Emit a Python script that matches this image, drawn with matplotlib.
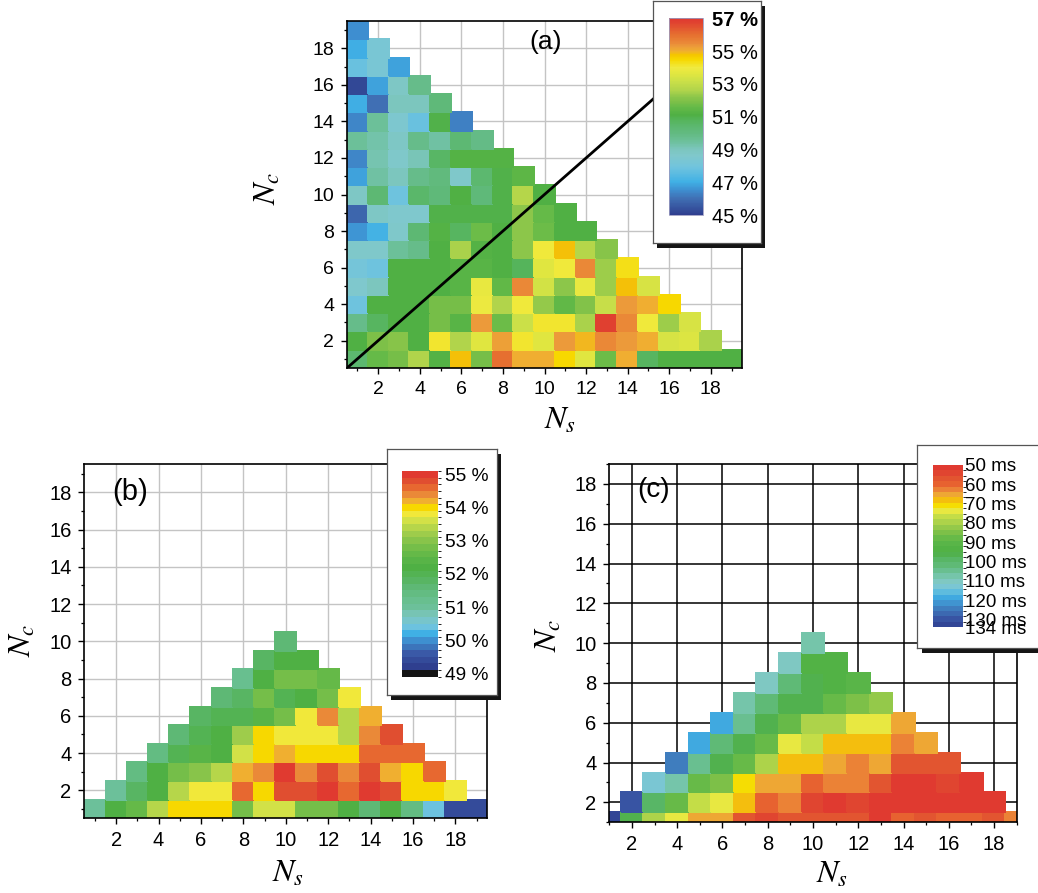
import numpy as np
import matplotlib
matplotlib.use('Agg')
import matplotlib.pyplot as plt
from matplotlib.colors import LinearSegmentedColormap, ListedColormap, BoundaryNorm, Normalize

plt.rcParams['font.family'] = ['Liberation Sans', 'DejaVu Sans']
plt.rcParams['mathtext.fontset'] = 'stix'

# ------------------------------------------------------------------ data
ns_axis = list(range(1, 20))          # N_s = 1..19
nc_axis = list(range(1, 20))          # N_c = 1..19
major_ticks = [2, 4, 6, 8, 10, 12, 14, 16, 18]

# Panel (a): rows for N_c = 1..19, each row starts at N_s = 1 (N_s + N_c <= 20)
a_rows = [
    [50.4, 51.6, 51.8, 52.6, 51.2, 54.8, 51.8, 56.0, 55.0, 55.0, 54.5, 53.6, 51.7, 55.0, 50.7, 51.1, 51.1, 51.1, 51.1],
    [51.1, 51.9, 52.1, 51.1, 54.1, 52.6, 53.6, 55.2, 54.1, 53.6, 55.3, 54.9, 55.5, 55.3, 55.0, 53.4, 53.5, 52.5],
    [49.8, 50.7, 51.1, 51.1, 51.8, 51.3, 55.3, 51.7, 53.2, 54.1, 54.1, 52.5, 56.8, 55.5, 54.0, 52.4, 53.4],
    [47.9, 51.1, 51.1, 51.1, 51.8, 51.8, 53.9, 52.6, 54.0, 52.3, 51.5, 52.0, 53.1, 55.3, 55.0, 54.5],
    [48.6, 49.0, 51.1, 51.1, 51.1, 51.3, 53.8, 51.5, 55.5, 53.3, 52.2, 53.8, 52.4, 54.8, 53.4],
    [48.1, 47.9, 51.1, 51.1, 51.1, 51.3, 51.3, 51.1, 50.8, 53.6, 54.0, 55.5, 52.4, 54.3],
    [48.7, 48.7, 49.5, 49.8, 51.1, 52.5, 51.2, 51.1, 52.2, 54.0, 54.8, 52.7, 52.1],
    [46.6, 47.1, 48.7, 50.3, 51.2, 50.7, 51.7, 51.1, 52.2, 51.7, 51.1, 51.1],
    [45.8, 48.8, 48.6, 48.6, 51.0, 51.0, 51.0, 51.0, 52.2, 51.6, 51.1],
    [48.8, 50.3, 47.9, 50.5, 50.2, 51.1, 50.2, 51.0, 52.7, 51.1],
    [46.8, 49.4, 49.0, 49.8, 50.1, 48.7, 50.4, 51.0, 51.4],
    [46.4, 49.2, 48.7, 49.1, 50.6, 51.2, 51.2, 51.2],
    [49.5, 49.3, 48.8, 49.8, 49.4, 50.3, 49.9],
    [46.4, 49.5, 48.5, 47.8, 51.0, 46.3],
    [47.0, 46.0, 49.0, 49.0, 50.2],
    [45.2, 46.8, 48.8, 49.8],
    [47.8, 48.3, 46.8],
    [47.0, 48.3],
    [46.5],
]

# Panel (b): rows for N_c = 1..10, row N_c starts at N_s = N_c, ends at N_s = 20 - N_c
b_rows = [
    [50.9, 52.2, 52.5, 53.3, 54.0, 54.0, 54.0, 52.7, 53.6, 53.6, 52.7, 52.7, 52.2, 51.6, 52.2, 51.3, 50.4, 49.3, 49.3],
    [50.9, 51.8, 52.2, 53.3, 53.8, 53.8, 54.6, 54.0, 54.8, 54.8, 55.0, 54.6, 55.0, 54.8, 54.0, 54.0, 53.8],
    [51.3, 52.2, 52.7, 53.0, 53.3, 54.2, 54.4, 55.0, 54.4, 54.8, 54.4, 54.8, 54.2, 54.0, 54.6],
    [51.3, 51.9, 52.4, 52.2, 53.6, 54.0, 54.2, 54.0, 54.0, 54.0, 54.6, 54.6, 54.6],
    [51.6, 51.9, 52.2, 53.1, 54.0, 53.8, 53.8, 53.8, 53.3, 54.4, 54.8],
    [51.8, 52.0, 52.0, 52.3, 52.7, 53.8, 54.4, 53.3, 54.2],
    [51.5, 51.8, 52.7, 51.9, 52.2, 52.7, 53.8],
    [51.2, 52.2, 52.7, 52.7, 52.5],
    [51.8, 52.2, 52.2],
    [51.6],
]

# Panel (c): delay in ms, same layout as (b)
c_rows = [
    [133, 95, 80, 73, 66, 66, 56, 54, 56, 56, 56, 56, 52, 60, 57, 60, 60, 57, 62],
    [129, 98, 87, 77, 73, 69, 60, 62, 54, 52, 54, 52, 52, 52, 52, 52, 52],
    [114, 108, 87, 85, 71, 66, 64, 60, 62, 62, 56, 52, 52, 54, 52],
    [124, 104, 95, 87, 80, 69, 69, 66, 62, 64, 58, 56, 56],
    [118, 102, 95, 88, 75, 77, 69, 69, 69, 62, 64],
    [118, 104, 96, 87, 80, 80, 75, 75, 66],
    [108, 102, 95, 95, 88, 85, 82],
    [110, 102, 95, 92, 90],
    [110, 93, 92],
    [108],
]

a_cbar_ticks = [45, 47, 49, 51, 53, 55, 57]
a_cbar_labels = ['45 %', '47 %', '49 %', '51 %', '53 %', '55 %', '57 %']
b_cbar_ticks = [49, 50, 51, 52, 53, 54, 55]
b_cbar_labels = ['49 %', '50 %', '51 %', '52 %', '53 %', '54 %', '55 %']
c_cbar_ticks = [50, 60, 70, 80, 90, 100, 110, 120, 130, 134]
c_cbar_labels = ['50 ms', '60 ms', '70 ms', '80 ms', '90 ms', '100 ms', '110 ms',
                 '120 ms', '130 ms', '134 ms']
panel_tags = ['(a)', '(b)', '(c)']

# ------------------------------------------------------------------ colour maps
a_anchors = [(45.0, '#2f3f8f'), (46.0, '#4070b4'), (46.5, '#3e8ed0'), (47.0, '#40b0e5'),
             (47.9, '#70c4de'), (48.6, '#80c8cc'), (49.0, '#7cc6be'), (49.5, '#6cc09a'),
             (50.0, '#62ba80'), (50.4, '#5cb870'), (50.8, '#55b45a'), (51.1, '#4fb044'),
             (51.6, '#66ba48'), (51.9, '#7cc048'), (52.2, '#8cc64a'), (52.6, '#b0d44b'),
             (53.2, '#cce048'), (53.6, '#e0e640'), (54.0, '#f0ea40'), (54.5, '#f7d800'),
             (54.8, '#f5c400'), (55.0, '#f0b030'), (55.3, '#ec9a3a'), (55.5, '#ea8a38'),
             (56.0, '#e67030'), (56.8, '#e04030'), (57.0, '#e03a30')]
b_anchors = [(49.2, '#2f3f8f'), (49.6, '#3a5aa8'), (50.0, '#3e90d0'), (50.2, '#40b0e5'),
             (50.4, '#70c4de'), (50.7, '#7cc6c0'), (51.0, '#6cc09a'), (51.3, '#66be8a'),
             (51.6, '#5eb874'), (51.9, '#55b45a'), (52.2, '#4fb044'), (52.5, '#5cb648'),
             (52.7, '#6cbc48'), (53.0, '#88c44a'), (53.3, '#a8d04b'), (53.6, '#d0e048'),
             (53.8, '#f0ea40'), (54.0, '#f7d800'), (54.2, '#f0b030'), (54.4, '#ea8a38'),
             (54.6, '#e86a30'), (54.8, '#e05030'), (55.0, '#e03a30')]
c_anchors = [(50, '#e03a30'), (52, '#e03a30'), (56, '#e05030'), (60, '#e86430'),
             (62, '#ea7a34'), (64, '#ec9a3a'), (66, '#f0b030'), (69, '#f5c400'),
             (71, '#f5dc00'), (73, '#f0ea40'), (75, '#dae444'), (77, '#c0dc48'),
             (80, '#a8d04b'), (85, '#7cc048'), (87, '#6cbc48'), (90, '#5ab648'),
             (95, '#4fb044'), (98, '#55b460'), (102, '#60ba78'), (104, '#66be8a'),
             (108, '#78c6b0'), (110, '#80c8c0'), (114, '#78c6d8'), (118, '#40b0e5'),
             (124, '#4080c0'), (129, '#3a5aa8'), (134, '#2f3f8f')]


def anchored(name, anchors):
    v0, v1 = anchors[0][0], anchors[-1][0]
    return LinearSegmentedColormap.from_list(
        name, [((v - v0) / (v1 - v0), c) for v, c in anchors]), v0, v1


cmap_a, a_min, a_max = anchored('a', a_anchors)
norm_a = Normalize(a_min, a_max)

cont_b, b0, b1 = anchored('b', b_anchors)
b_bounds = np.linspace(48.9, 55.1, 32)
b_centers = 0.5 * (b_bounds[1:] + b_bounds[:-1])
b_cols = ['#141414'] + [cont_b((v - b0) / (b1 - b0)) for v in b_centers[1:]]
cmap_b = ListedColormap(b_cols)
norm_b = BoundaryNorm(b_bounds, cmap_b.N)

cont_c, c0, c1 = anchored('c', c_anchors)
c_bounds = np.linspace(50, 134, 31)
c_centers = 0.5 * (c_bounds[1:] + c_bounds[:-1])
cmap_c = ListedColormap([cont_c((v - c0) / (c1 - c0)) for v in c_centers])
norm_c = BoundaryNorm(c_bounds, cmap_c.N)


def build(rows, start_of_row):
    Z = np.full((len(nc_axis), len(ns_axis)), np.nan)
    for i, row in enumerate(rows):
        nc = nc_axis[i]
        s0 = start_of_row(nc)
        for j, v in enumerate(row):
            Z[nc - 1, s0 - 1 + j] = v
    return np.ma.masked_invalid(Z)


Za = build(a_rows, lambda nc: 1)
Zb = build(b_rows, lambda nc: nc)
Zc = build(c_rows, lambda nc: nc)

x_edges = np.arange(ns_axis[0] - 0.5, ns_axis[-1] + 1.0)
y_edges = np.arange(nc_axis[0] - 0.5, nc_axis[-1] + 1.0)

# ------------------------------------------------------------------ figure
W, H = 1038, 893
fig = plt.figure(figsize=(W / 100, H / 100), dpi=100)


def px_rect(x0, y0, x1, y1):
    return [x0 / W, 1 - y1 / H, (x1 - x0) / W, (y1 - y0) / H]


def style_axes(ax, lims, grid_color, grid_lw, fs):
    ax.set_xlim(*lims)
    ax.set_ylim(*lims)
    ax.set_axisbelow(True)
    ax.set_xticks(major_ticks)
    ax.set_yticks(major_ticks)
    ax.set_xticks([v for v in ns_axis if v % 2 == 1 and lims[0] <= v <= lims[1]], minor=True)
    ax.set_yticks([v for v in nc_axis if v % 2 == 1 and lims[0] <= v <= lims[1]], minor=True)
    ax.tick_params(which='major', direction='out', length=4.2, width=1.0, labelsize=fs, pad=5)
    ax.tick_params(which='minor', direction='out', length=2.4, width=0.9)
    ax.grid(True, which='major', color=grid_color, lw=grid_lw)
    for s in ax.spines.values():
        s.set_linewidth(1.2)
        s.set_color('black')


def legend_box(x0, y0, x1, y1, sx, sy):
    sh = fig.add_axes(px_rect(x0 + sx, y0 + sy, x1 + sx, y1 + sy), zorder=8)
    sh.set_facecolor('#151515')
    sh.set_xticks([]); sh.set_yticks([])
    for s in sh.spines.values():
        s.set_visible(False)
    bx = fig.add_axes(px_rect(x0, y0, x1, y1), zorder=9)
    bx.set_facecolor('white')
    bx.set_xticks([]); bx.set_yticks([])
    for s in bx.spines.values():
        s.set_color('#555555')
        s.set_linewidth(0.9)


# ---- panel (a)
axa = fig.add_axes(px_rect(347, 21, 742, 368))
axa.pcolormesh(x_edges, y_edges, Za, cmap=cmap_a, norm=norm_a, edgecolors='face', linewidth=0.3)
style_axes(axa, (0.5, 19.5), '#c4c4c4', 1.0, 14)
lims = axa.get_xlim()
axa.plot(lims, lims, color='black', lw=2.0, zorder=4)

legend_box(652.7, 1, 760.7, 243.3, 4, 5)
caxa = fig.add_axes(px_rect(669, 18.3, 703.3, 215), zorder=10)
sm_a = plt.cm.ScalarMappable(norm=norm_a, cmap=cmap_a)
cba = fig.colorbar(sm_a, cax=caxa, ticks=a_cbar_ticks)
cba.ax.set_yticklabels(a_cbar_labels)
cba.ax.tick_params(length=0, labelsize=14.5, pad=6)
cba.outline.set_edgecolor('#9a9ac0')
cba.outline.set_linewidth(0.6)
cba.ax.get_yticklabels()[-1].set_fontweight('bold')

# ---- panel (b)
axb = fig.add_axes(px_rect(84.3, 464.3, 487.3, 818.3))
axb.pcolormesh(x_edges, y_edges, Zb, cmap=cmap_b, norm=norm_b, edgecolors='face', linewidth=0.3)
style_axes(axb, (0.5, 19.5), '#c4c4c4', 1.0, 14.5)

legend_box(386.7, 449.3, 496.7, 695, 4, 5)
caxb = fig.add_axes(px_rect(402.3, 471, 438.3, 676.7), zorder=10)
sm_b = plt.cm.ScalarMappable(norm=norm_b, cmap=cmap_b)
cbb = fig.colorbar(sm_b, cax=caxb, ticks=b_cbar_ticks)
cbb.ax.set_yticklabels(b_cbar_labels)
cbb.ax.tick_params(length=0, labelsize=13.8, pad=5)
cbb.outline.set_visible(False)

# ---- panel (c)
axc = fig.add_axes(px_rect(609.3, 464, 1016.7, 822.3))
axc.pcolormesh(x_edges, y_edges, Zc, cmap=cmap_c, norm=norm_c, edgecolors='face', linewidth=0.3)
style_axes(axc, (1.0, 19.0), 'black', 1.1, 14.5)

legend_box(916.7, 444.7, 1050, 648.3, 5, 5)
caxc = fig.add_axes(px_rect(933.3, 465, 962.7, 627.3), zorder=10)
sm_c = plt.cm.ScalarMappable(norm=norm_c, cmap=cmap_c)
cbc = fig.colorbar(sm_c, cax=caxc, ticks=c_cbar_ticks)
cbc.ax.set_yticklabels(c_cbar_labels)
cbc.ax.invert_yaxis()
cbc.ax.tick_params(length=0, labelsize=13.5, pad=2)
cbc.outline.set_visible(False)

# ---- panel tags and axis labels
for tag, (x, y), fs in zip(panel_tags, [(545.7, 41.7), (130, 491.7), (653.3, 490)], [19, 21, 20]):
    fig.text(x / W, 1 - y / H, tag, ha='center', va='center', fontsize=fs)

for (x, y) in [(560, 421), (288, 874), (832, 875)]:
    fig.text(x / W, 1 - y / H, r'$N_s$', ha='center', va='center', fontsize=23)
for (x, y) in [(268, 188), (23, 640), (549, 635)]:
    fig.text(x / W, 1 - y / H, r'$N_c$', ha='center', va='center', fontsize=23, rotation=90)

fig.savefig('out.png', dpi=100)
